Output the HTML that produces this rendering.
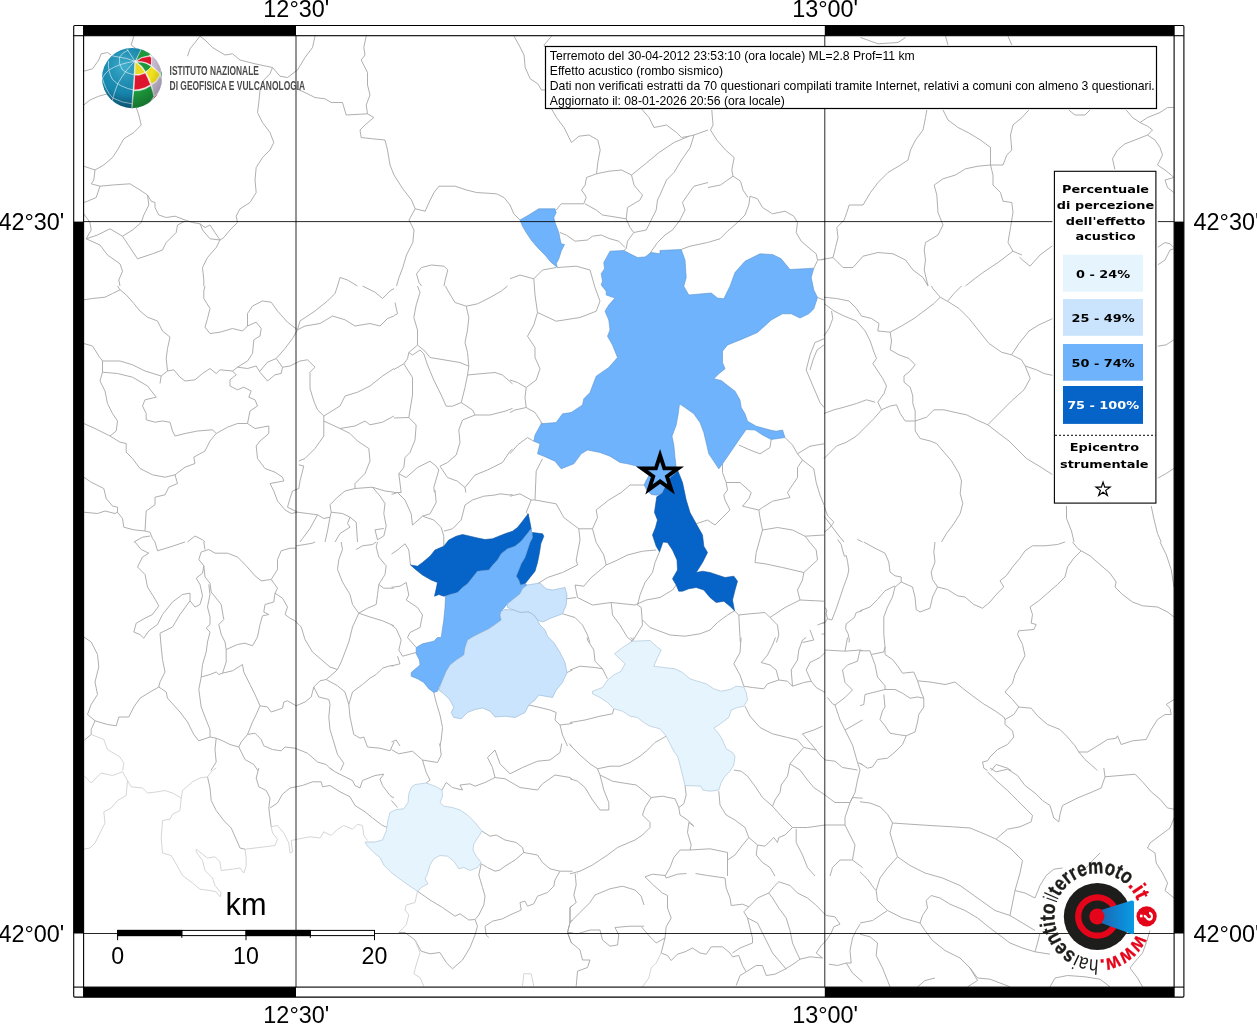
<!DOCTYPE html>
<html lang="it"><head><meta charset="utf-8"><title>Hai sentito il terremoto - Effetto acustico</title>
<style>html,body{margin:0;padding:0;background:#fff}body{width:1257px;height:1024px;overflow:hidden}svg{display:block}.h{font-family:"Liberation Sans",sans-serif}.d{font-family:"DejaVu Sans",sans-serif;font-weight:bold}</style></head><body>
<svg width="1257" height="1024" viewBox="0 0 1257 1024">
<rect width="1257" height="1024" fill="#fff"/>
<defs><clipPath id="mc"><rect x="83.6" y="35.7" width="1090.5" height="951.4"/></clipPath>
<linearGradient id="cone" x1="0" y1="0" x2="1" y2="0"><stop offset="0" stop-color="#1c68b2"/><stop offset="0.55" stop-color="#0e86d2"/><stop offset="1" stop-color="#0a9be3"/></linearGradient>
<radialGradient id="gb" cx="0.35" cy="0.3" r="0.8"><stop offset="0" stop-color="#2aa6c9"/><stop offset="0.6" stop-color="#1583aa"/><stop offset="1" stop-color="#0c5f86"/></radialGradient>
<radialGradient id="gs" cx="0.4" cy="0.3" r="0.75"><stop offset="0" stop-color="#fff" stop-opacity="0.12"/><stop offset="0.6" stop-color="#000" stop-opacity="0"/><stop offset="1" stop-color="#000" stop-opacity="0.28"/></radialGradient>
</defs>
<g clip-path="url(#mc)">
<g fill="none" stroke="#a6a6a6" stroke-width="0.9" stroke-linejoin="round">
<path d="M510.0 205.0 L513.8 213.8 L520.0 220.0"/>
<path d="M556.2 210.0 L561.2 203.8 L583.8 203.8 L586.2 197.5 L585.0 195.0"/>
<path d="M585.0 203.8 L596.2 210.0 L602.5 215.0 L626.2 218.8 L627.5 207.5 L640.0 200.0 L642.5 195.0"/>
<path d="M626.2 218.8 L630.0 227.5 L633.8 232.5 L627.5 241.2 L626.2 248.8 L623.8 250.5"/>
<path d="M560.0 232.5 L566.2 235.0 L575.0 241.2 L587.5 240.0 L592.5 236.2 L601.2 235.0 L610.0 238.8 L618.8 241.2 L625.0 247.5"/>
<path d="M633.8 232.5 L646.2 230.0 L650.0 222.5 L656.2 210.0 L657.5 200.0 L660.0 195.0"/>
<path d="M648.8 255.0 L657.5 242.5 L665.0 235.0 L672.5 230.0 L680.0 220.0 L685.0 210.0 L682.5 202.5 L687.5 195.0"/>
<path d="M681.2 249.5 L690.0 246.2 L707.5 242.5 L720.0 238.8 L727.5 231.2 L737.5 222.5 L745.0 215.0 L748.8 205.0 L750.0 196.2 L757.5 198.8 L762.5 207.5 L772.5 213.8 L785.0 211.2 L793.8 216.2 L797.5 222.5 L796.2 232.5 L801.2 241.2 L810.0 248.8 L816.2 253.8 L817.5 260.0 L824.0 259.5"/>
<path d="M813.8 268.2 L817.5 260.5"/>
<path d="M817.5 297.5 L824.0 300.0"/>
<path d="M824.0 338.8 L815.0 342.5 L810.0 355.0 L806.2 370.0 L812.5 385.0 L820.0 402.5 L824.0 407.5"/>
<path d="M824.0 345.0 L817.0 350.0 L813.0 360.0 L810.0 370.0"/>
<path d="M556.2 267.5 L542.5 270.0 L533.8 278.8 L520.0 275.0 L510.0 278.8"/>
<path d="M533.8 278.8 L535.0 295.0 L537.5 312.5 L556.2 321.2 L580.0 317.5 L596.2 311.2 L600.0 301.2 L595.0 287.5 L590.0 270.0 L576.2 266.2 L557.5 267.5"/>
<path d="M537.5 312.5 L533.8 325.0 L527.5 336.2 L535.0 347.5 L535.0 357.5 L540.0 368.8 L536.2 380.0 L526.2 387.5 L525.0 397.5 L526.2 407.5 L535.0 412.5 L542.5 423.8"/>
<path d="M526.2 387.5 L517.5 382.5 L510.0 380.0"/>
<path d="M526.2 407.5 L515.0 410.0 L510.0 412.5"/>
<path d="M540.7 422.5 L541.2 423.8"/>
<path d="M510.0 453.8 L517.5 445.0 L527.5 437.5 L533.8 441.2"/>
<path d="M542.5 458.8 L536.2 471.2 L535.0 500.0 L556.2 503.8 L563.8 517.5 L578.8 528.8 L592.5 528.8 L597.5 517.5 L596.2 510.0 L608.8 500.0 L621.2 492.5 L630.0 485.0 L645.0 485.0"/>
<path d="M510.0 496.2 L520.0 493.8 L531.2 500.0 L535.0 500.0"/>
<path d="M531.2 500.0 L526.2 512.5 L528.8 515.0"/>
<path d="M578.8 528.8 L580.0 540.0 L576.2 560.0 L577.5 565.0 L562.5 572.5 L547.5 577.5 L537.5 583.8"/>
<path d="M592.5 528.8 L596.2 542.5 L603.8 555.0 L606.2 565.0 L615.0 561.2 L627.5 555.0 L642.5 551.2 L656.2 550.0"/>
<path d="M606.2 565.0 L591.2 577.5 L583.8 586.2 L575.0 585.0 L577.5 597.5 L592.5 605.0 L611.2 602.5 L635.0 605.0 L646.2 600.0 L660.0 597.5 L672.5 590.0 L676.2 585.0"/>
<path d="M659.5 551.8 L655.0 562.5 L652.5 572.5 L645.0 582.5 L640.0 595.0 L637.5 605.0"/>
<path d="M611.2 602.5 L612.5 615.0 L620.0 625.0 L627.5 637.5 L632.5 641.2 L642.5 625.0 L641.2 607.5 L637.5 605.0"/>
<path d="M642.5 620.0 L650.0 627.5 L670.0 635.0 L685.0 636.2 L700.0 633.8 L710.0 630.0 L717.5 622.5 L727.5 615.0 L734.5 610.8"/>
<path d="M566.2 598.8 L576.2 597.5"/>
<path d="M562.5 613.8 L575.0 617.5 L582.5 625.0 L587.5 635.0 L590.0 642.5"/>
<path d="M632.5 641.2 L630.7 642.5"/>
<path d="M734.5 610.8 L738.8 615.0 L740.0 637.5 L740.3 642.5"/>
<path d="M738.8 615.0 L750.0 613.8 L765.0 612.5 L770.0 617.5 L777.5 625.0 L778.8 635.0 L776.5 642.5"/>
<path d="M770.0 617.5 L785.0 607.5 L800.0 600.0 L824.0 601.2"/>
<path d="M800.0 600.0 L797.5 590.0 L802.5 580.0 L803.8 572.5 L782.5 567.5 L765.0 563.8 L755.0 562.5 L756.2 552.5 L762.5 530.0 L760.0 517.5 L758.8 510.0 L742.5 506.2 L748.8 498.8 L751.2 492.5 L740.0 482.5 L726.2 482.5 L722.5 472.5 L722.5 463.8"/>
<path d="M771.2 439.5 L770.0 447.5 L760.0 453.8 L750.0 450.0 L738.8 445.0"/>
<path d="M785.0 437.5 L792.5 445.0 L797.5 453.8 L802.5 460.0 L797.5 467.5 L797.5 477.5 L787.5 492.5 L790.0 497.5 L772.5 501.2 L762.5 507.5 L758.8 510.0"/>
<path d="M797.5 453.8 L810.0 446.2 L824.0 443.8"/>
<path d="M802.5 460.0 L813.8 468.8 L816.2 482.5 L820.0 495.0 L824.0 505.0"/>
<path d="M762.5 530.0 L777.5 527.5 L792.5 530.0 L805.0 536.2 L810.0 542.5 L816.2 550.0 L817.5 560.0 L803.8 572.5"/>
<path d="M805.0 536.2 L824.0 535.0"/>
<path d="M696.2 523.8 L707.5 520.0 L715.0 525.0 L722.5 517.5 L730.0 510.0 L725.0 500.0 L723.8 495.0 L727.5 490.0 L726.2 482.5"/>
<path d="M817.5 625.0 L824.0 622.5"/>
<path d="M810.0 630.0 L813.8 640.0 L802.5 642.5"/>
<path d="M391.5 494.5 L397.5 492.5 L405.0 500.0 L411.2 513.8 L412.5 525.0 L422.5 516.2 L430.0 513.8 L436.2 502.5 L435.0 490.0"/>
<path d="M422.5 516.2 L433.8 520.0 L441.2 527.5 L443.8 536.2 L443.8 546.2"/>
<path d="M443.8 531.2 L452.5 528.8 L461.2 520.0 L465.0 505.0 L472.5 500.0 L483.8 496.2 L495.0 495.0 L500.0 493.8 L510.0 495.0 L512.5 494.4"/>
<path d="M391.5 554.0 L397.5 550.0 L405.0 543.8 L408.8 550.0 L410.5 565.0"/>
<path d="M567.0 672.5 L572.5 669.9"/>
<path d="M572.5 723.2 L570.0 723.8 L560.0 725.0 L555.0 720.0 L556.2 712.5 L550.0 710.0 L540.0 707.5 L528.8 705.0"/>
<path d="M560.0 725.0 L562.5 735.0 L567.5 746.0"/>
<path d="M391.5 625.0 L396.2 628.8 L401.2 640.0 L398.8 650.0 L402.5 656.2 L416.2 652.5"/>
<path d="M391.5 665.9 L400.0 663.8 L397.5 656.2"/>
<path d="M391.5 587.3 L400.0 586.2 L406.2 582.5 L408.8 595.0 L406.2 600.0 L417.5 607.5 L422.5 615.0 L420.0 627.5 L410.0 632.5 L407.5 637.5 L416.2 647.5"/>
<path d="M433.8 692.5 L436.2 702.5 L440.0 715.0 L442.5 727.5 L441.2 740.0 L440.0 746.0"/>
<path d="M391.5 741.9 L396.2 740.0 L400.0 746.0"/>
<path d="M587.2 637.5 L587.5 640.0 L593.8 650.0 L595.0 661.2 L602.5 668.8 L607.5 678.8"/>
<path d="M570.0 670.0 L580.0 666.2 L595.0 667.5 L602.5 668.8"/>
<path d="M630.7 637.5 L632.5 639.5 L633.6 637.5"/>
<path d="M741.1 637.5 L740.0 652.5 L733.8 663.8 L740.0 675.0 L743.8 686.2"/>
<path d="M743.8 686.2 L752.5 687.5 L763.8 688.8 L767.5 683.8 L778.8 680.0 L787.5 681.2 L792.5 686.2 L803.8 682.5 L811.2 681.2 L816.2 687.5 L825.0 692.5"/>
<path d="M778.8 680.0 L776.2 670.0 L770.0 665.0 L761.2 662.5 L767.5 655.0 L772.5 645.0 L775.5 637.5"/>
<path d="M792.5 686.2 L791.2 670.0 L797.5 660.0 L798.8 650.0 L802.5 640.0 L806.2 637.5"/>
<path d="M811.2 681.2 L806.2 670.0 L810.0 662.5 L820.0 657.5 L825.0 652.5"/>
<path d="M825.0 650.0 L845.0 651.2 L860.0 650.0 L862.5 650.6"/>
<path d="M845.0 651.2 L847.5 637.5"/>
<path d="M860.0 650.0 L857.5 661.2 L847.5 665.0 L842.5 670.0 L845.0 682.5 L852.5 690.0 L845.0 697.5 L835.0 705.0 L832.5 703.8 L827.5 697.5"/>
<path d="M835.0 705.0 L840.0 720.0 L845.0 730.0 L862.5 720.0"/>
<path d="M845.0 730.0 L852.5 745.0 L857.5 762.5 L860.0 770.0 L857.5 780.0 L855.0 792.5 L850.0 802.5 L845.0 817.5 L845.0 825.0"/>
<path d="M857.5 762.5 L862.5 764.5"/>
<path d="M745.0 706.2 L750.0 716.2 L760.0 727.5 L772.5 733.8 L787.5 737.5 L797.5 740.0 L803.8 747.5 L795.0 757.5 L790.0 763.8 L787.5 776.2 L781.2 785.0 L780.0 792.5 L775.0 800.0 L772.5 806.2"/>
<path d="M803.8 747.5 L816.2 750.0 L820.0 755.0 L825.0 760.0 L835.0 761.2 L842.5 767.5 L857.5 770.0"/>
<path d="M802.5 733.8 L813.8 730.0 L822.5 726.2"/>
<path d="M802.5 733.8 L810.0 742.5 L816.2 750.0"/>
<path d="M790.0 763.8 L800.0 770.0 L807.5 780.0 L813.8 787.5 L825.0 795.0 L835.0 802.5 L850.0 802.5"/>
<path d="M733.8 770.0 L741.2 771.2 L747.5 776.2 L755.0 786.2 L762.5 797.5 L772.5 806.2 L782.5 817.5 L792.5 827.5 L785.0 835.0 L778.8 837.5 L777.5 842.5 L773.8 837.5 L765.0 846.2 L757.5 845.0 L748.8 837.5 L745.0 827.5 L735.0 820.0 L726.2 815.0 L720.0 805.0 L718.8 791.2"/>
<path d="M792.5 827.5 L807.5 827.5 L825.0 825.0 L845.0 825.0"/>
<path d="M796.2 828.8 L796.2 842.5 L802.5 855.0 L807.5 867.5 L815.0 876.0"/>
<path d="M845.0 825.0 L850.0 835.0 L855.0 845.0 L852.5 860.0 L840.0 860.0 L832.5 867.5 L830.0 876.0"/>
<path d="M852.5 860.0 L862.5 867.5"/>
<path d="M748.8 837.5 L742.5 845.0 L735.0 855.0 L727.5 860.0 L727.5 876.0"/>
<path d="M757.5 845.0 L756.2 855.0 L762.5 862.5 L770.0 867.5 L775.0 876.0"/>
<path d="M685.0 785.5 L686.2 795.0 L683.8 803.8 L678.8 807.5 L680.0 815.0 L687.5 820.0 L693.8 826.2 L688.8 822.5 L687.5 832.5 L691.2 845.0 L690.0 850.0 L710.0 848.8 L727.5 852.5 L727.5 860.0"/>
<path d="M678.8 807.5 L675.0 798.8 L662.5 796.2 L651.2 797.5 L642.5 790.0 L636.2 785.0 L620.0 782.5 L612.5 781.2 L600.0 775.0 L597.5 768.8 L610.0 766.2 L620.0 766.2 L630.0 762.5 L640.0 756.2 L647.5 750.0 L655.0 742.5 L666.2 736.2"/>
<path d="M570.0 722.5 L585.0 720.0 L600.0 716.2 L612.5 713.8 L613.8 708.8"/>
<path d="M570.0 745.0 L580.0 755.0 L590.0 763.8 L597.5 768.8"/>
<path d="M600.0 775.0 L603.8 790.0 L608.8 802.5 L608.8 810.0 L600.0 810.0 L592.5 800.0 L585.0 787.5 L577.5 781.2 L570.0 778.8"/>
<path d="M651.2 797.5 L645.0 807.5 L642.5 815.0 L650.0 822.5 L650.0 827.5 L642.5 835.0 L635.0 840.0 L617.5 847.5 L607.5 855.0 L592.5 865.0 L580.0 871.2 L570.0 873.8"/>
<path d="M690.0 850.0 L680.0 850.0 L673.8 857.5 L670.0 867.5 L665.0 876.0"/>
<path d="M862.5 798.2 L852.5 797.5 L850.0 802.5"/>
<path d="M391.5 749.7 L398.8 753.8 L412.5 751.2 L422.5 760.0 L426.2 772.5 L430.0 780.0 L426.2 783.0"/>
<path d="M391.5 800.5 L397.5 807.5"/>
<path d="M422.5 760.0 L437.5 762.5 L441.2 755.0 L440.0 745.0 L439.2 743.5"/>
<path d="M442.0 790.0 L446.2 782.5 L452.5 787.5 L462.5 790.0 L460.0 785.0 L470.0 783.8 L475.0 786.2 L485.0 782.5 L495.0 777.5 L505.0 778.8 L520.0 787.5 L537.5 790.0 L542.5 783.8 L555.0 775.0 L570.0 777.5 L572.5 779.5"/>
<path d="M495.0 777.5 L492.5 767.5 L487.5 757.5 L495.0 750.0 L500.0 763.8 L510.0 773.8 L522.5 767.5 L537.5 761.2 L550.0 760.0 L560.0 752.5 L561.8 743.5"/>
<path d="M569.2 743.5 L572.5 747.5"/>
<path d="M482.0 831.2 L490.0 836.2 L496.2 835.0 L505.0 840.0 L516.2 842.5 L522.5 847.5 L523.8 852.5 L515.0 860.0 L505.0 866.2 L500.0 870.0 L495.0 871.2 L487.5 867.5 L481.2 863.8"/>
<path d="M523.8 852.5 L537.5 855.0 L542.5 862.5 L550.0 868.8 L560.0 871.2 L572.5 871.2"/>
<path d="M577.2 873.5 L577.5 873.8 L578.0 873.5"/>
<path d="M560.0 871.2 L555.0 880.0 L553.8 886.2 L547.5 892.5 L537.5 896.2 L533.8 903.8 L527.5 906.2 L525.0 901.2 L520.0 902.5 L521.2 910.0 L510.0 915.0 L502.5 918.8 L492.5 921.2 L485.0 926.2 L486.2 935.0 L488.8 937.5"/>
<path d="M481.2 863.8 L478.8 875.0 L482.5 887.5 L485.0 896.2 L483.8 905.0 L478.8 915.0 L475.0 919.5 L477.5 926.2 L475.0 935.0 L470.0 947.5 L462.5 960.0 L452.5 968.8 L446.2 962.5 L440.0 952.5 L430.0 953.8 L421.2 951.2 L415.0 940.0 L405.0 932.5 L398.8 932.5"/>
<path d="M417.5 891.2 L430.0 900.0 L442.5 907.5 L455.0 916.2 L460.0 913.8 L468.8 920.0 L475.0 919.5"/>
<path d="M572.5 905.5 L570.0 907.5 L570.0 922.5 L567.5 932.5"/>
<path d="M575.2 873.5 L576.2 885.0 L573.8 895.0 L576.2 902.5 L570.0 907.5 L570.0 922.5 L567.5 932.5"/>
<path d="M570.0 922.5 L572.5 920.0"/>
<path d="M570.0 922.5 L580.0 912.5 L590.0 902.5 L595.0 895.0 L610.0 888.8 L622.5 886.2 L635.0 890.0 L641.2 896.2 L644.0 905.0"/>
<path d="M567.5 932.5 L572.5 933.1"/>
<path d="M567.5 932.5 L577.5 933.8 L590.0 930.0 L600.0 930.0 L602.5 940.0 L610.0 946.2 L617.5 945.0 L618.8 935.0 L615.0 927.5 L630.0 926.2 L644.0 926.2"/>
<path d="M567.5 932.5 L571.2 942.5 L572.5 943.6"/>
<path d="M567.5 932.5 L571.2 942.5 L580.0 950.0 L582.5 960.0 L590.0 960.0 L587.5 967.5 L577.5 971.2 L576.2 986.2"/>
<path d="M417.5 891.2 L415.0 902.5 L406.2 905.0 L405.0 910.0 L408.8 915.0 L406.2 925.0 L398.8 932.5" stroke="#d0d0d0"/>
<path d="M415.0 940.0 L420.0 952.5 L416.2 965.0 L413.8 973.8 L420.0 977.5 L423.8 986.2" stroke="#d0d0d0"/>
<path d="M522.5 986.2 L523.8 973.8 L531.2 973.8 L533.8 986.2" stroke="#d0d0d0"/>
<path d="M83.8 71.2 L92.5 68.8 L98.8 60.0 L101.2 53.8 L107.5 52.5 L111.2 55.0"/>
<path d="M133.8 36.2 L131.2 45.0 L136.2 48.8"/>
<path d="M200.0 36.2 L195.0 42.5 L190.0 48.8 L187.5 56.2"/>
<path d="M200.0 36.2 L205.0 40.0 L212.5 47.5 L225.0 55.0 L232.5 53.8 L240.0 60.0 L255.0 63.8 L272.5 67.5 L270.0 73.8 L263.8 80.0 L260.0 90.0 L258.8 102.5 L257.5 112.5 L262.5 122.5 L270.0 132.5 L273.8 142.5 L270.0 150.0 L262.5 157.5 L256.2 167.5 L255.0 180.0 L256.2 192.5 L250.0 202.5 L240.0 208.8 L236.2 216.2 L237.5 222.5 L230.0 230.0 L223.8 237.5 L220.0 240.0"/>
<path d="M272.5 67.5 L280.0 76.2 L287.5 77.5 L297.5 70.0 L305.0 57.5 L312.5 47.5 L315.0 36.2"/>
<path d="M296.2 88.8 L305.0 92.5 L315.0 97.5 L325.0 98.8 L331.2 102.5 L342.5 102.5 L346.2 115.0 L367.5 113.8 L373.8 117.5 L365.0 125.0 L360.0 130.0 L361.2 137.5 L372.5 138.8 L385.0 140.0 L387.5 150.0 L390.0 165.0 L394.0 175.0"/>
<path d="M366.2 36.2 L363.8 47.5 L365.0 55.0 L361.2 60.0 L367.5 72.5 L367.5 85.0 L370.0 95.0 L366.2 105.0 L367.5 113.8"/>
<path d="M136.2 107.5 L138.8 115.0 L141.2 125.0 L133.8 132.5 L123.8 138.8 L117.5 150.0 L112.5 157.5 L103.8 165.0 L95.0 170.0 L93.8 180.0 L91.2 183.8 L100.0 186.2 L112.5 185.0 L130.0 183.8 L140.0 190.0 L147.5 195.0 L151.2 201.2 L155.0 202.5 L155.0 207.5 L158.8 215.0 L166.2 217.5 L175.0 216.2 L185.0 220.0 L192.5 222.5 L200.0 223.8 L205.0 227.5 L210.0 225.0 L215.0 232.5 L220.0 240.0"/>
<path d="M83.8 105.0 L90.0 100.0 L98.8 96.2 L107.5 93.8"/>
<path d="M83.8 166.2 L95.0 170.0"/>
<path d="M100.0 186.2 L96.2 197.5 L87.5 201.2 L83.8 202.5"/>
<path d="M147.5 195.0 L148.8 205.0 L143.8 215.0 L141.2 222.5 L132.5 230.0 L122.5 236.2 L137.5 258.8 L152.5 253.8 L162.5 250.0 L166.2 242.5 L176.2 232.5 L177.5 225.0 L185.0 221.2"/>
<path d="M83.8 213.8 L90.0 222.5 L91.2 230.0 L86.2 238.8 L100.0 245.0 L107.5 255.0 L120.0 263.8 L122.5 271.2 L118.8 280.0 L120.0 286.0"/>
<path d="M86.2 238.8 L97.5 235.0 L110.0 228.8 L122.5 236.2"/>
<path d="M200.0 223.8 L202.5 230.0 L210.0 238.8 L220.0 240.0 L216.2 247.5 L207.5 257.5 L202.5 267.5 L203.8 280.0 L203.8 286.0"/>
<path d="M337.5 286.0 L340.0 277.5 L347.5 280.0 L357.5 286.0"/>
<path d="M514.0 36.2 L519.0 45.0 L524.0 55.0 L525.2 67.5 L530.2 78.8 L537.8 83.8 L541.5 90.0 L545.2 90.0"/>
<path d="M551.5 36.2 L544.0 45.0 L544.8 47.0"/>
<path d="M551.5 108.8 L556.5 117.5 L564.0 127.5 L569.0 137.5 L571.5 142.5 L579.0 136.2 L589.0 135.0 L597.8 140.0 L600.2 150.0 L597.8 162.5 L596.5 173.8 L586.5 177.5 L585.2 185.0 L581.5 190.0 L585.0 195.0"/>
<path d="M596.5 173.8 L609.0 171.2 L621.5 170.0 L631.5 175.0 L644.0 165.0 L659.0 152.5 L674.0 142.5 L689.0 136.2 L694.0 135.0 L708.0 130.0"/>
<path d="M641.5 108.8 L649.0 117.5 L654.0 127.5 L666.5 125.0 L676.5 132.5 L681.5 137.5 L689.0 136.2"/>
<path d="M694.0 135.0 L690.2 147.5 L681.5 160.0 L674.0 172.5 L666.5 180.0 L660.0 195.0"/>
<path d="M631.5 175.0 L634.0 185.0 L640.2 192.5 L642.5 195.0"/>
<path d="M687.5 195.0 L694.0 186.2 L708.0 182.5"/>
<path d="M510.0 205.0 L504.0 197.5 L496.5 193.8 L476.5 192.5 L466.5 190.0 L455.2 186.2 L439.0 186.2 L434.0 192.5 L429.0 202.5 L425.2 211.2 L415.2 208.8 L411.5 200.0 L402.8 188.8 L394.0 175.0"/>
<path d="M415.2 208.8 L409.0 220.0 L414.0 230.0 L412.8 242.5 L406.5 255.0 L402.8 267.5 L399.0 277.5 L396.5 286.0"/>
<path d="M416.5 273.8 L421.5 267.5 L431.5 265.0 L444.0 266.2 L447.8 270.0 L445.2 280.0 L444.0 286.0"/>
<path d="M416.5 273.8 L419.0 282.5 L421.5 286.0"/>
<path d="M711.8 110.0 L713.0 125.0 L710.5 130.0 L716.8 140.0 L725.5 150.0 L734.2 157.5 L731.8 170.0 L733.0 176.2 L740.5 181.2 L743.0 190.0 L748.0 197.5"/>
<path d="M708.0 187.5 L720.5 185.0 L733.0 176.2"/>
<path d="M821.5 259.6 L833.0 257.5 L835.5 247.5 L838.0 237.5 L836.8 227.5 L844.2 220.0 L846.8 212.5 L849.2 205.0 L863.0 205.0 L870.5 192.5 L878.0 182.5 L888.0 172.5 L900.5 165.0 L908.0 160.0 L910.5 150.0 L915.5 140.0 L923.0 130.0 L925.5 117.5 L926.8 110.0"/>
<path d="M833.0 257.5 L843.0 267.5 L853.0 267.5 L863.0 256.2 L878.0 252.5 L893.0 253.8 L905.5 260.0 L913.0 270.0 L923.0 277.5 L928.0 286.0"/>
<path d="M943.0 110.0 L948.0 120.0 L958.0 127.5 L968.0 132.5 L980.5 140.0 L990.5 147.5 L990.5 165.0 L993.0 175.0 L993.0 185.0 L1000.5 192.5 L1003.0 201.2 L1011.8 202.5 L1013.0 212.5 L1010.5 227.5 L1008.0 242.5 L1013.0 251.2 L998.0 262.5 L983.0 272.5 L973.0 280.0 L965.5 286.0"/>
<path d="M990.5 165.0 L978.0 166.2 L965.5 168.8 L955.5 175.0 L943.0 178.8 L934.2 185.0 L936.8 195.0 L938.0 212.5 L943.0 225.0 L938.0 235.0 L925.5 242.5 L924.2 250.0 L925.5 260.0 L924.2 270.0 L928.0 286.0"/>
<path d="M1022.0 117.5 L1013.0 125.0 L1010.5 135.0 L1011.8 150.0 L1006.8 155.0 L1003.0 165.0 L990.5 165.0"/>
<path d="M1013.0 251.2 L1022.0 255.0"/>
<path d="M860.5 37.5 L878.0 43.8 L898.0 42.5 L905.5 37.5"/>
<path d="M945.5 36.2 L948.0 45.0"/>
<path d="M1008.0 36.2 L1011.8 45.0"/>
<path d="M1022.0 117.5 L1028.8 110.0"/>
<path d="M1019.5 257.2 L1022.5 260.0 L1030.0 266.2 L1040.0 255.0 L1050.0 247.5 L1053.8 245.0"/>
<path d="M1068.8 110.0 L1075.0 115.0 L1085.0 115.0 L1090.0 110.0"/>
<path d="M1126.2 110.0 L1132.5 117.5 L1140.0 122.5 L1147.5 126.2 L1152.5 130.0 L1147.5 135.0 L1155.0 140.0 L1160.0 147.5 L1162.5 155.0 L1157.5 165.0 L1165.0 170.0 L1171.2 175.0 L1173.8 177.5"/>
<path d="M1147.5 135.0 L1135.0 140.0 L1125.0 143.8 L1117.5 150.0 L1112.5 158.8 L1115.0 170.0"/>
<path d="M1140.0 122.5 L1147.5 117.5 L1160.0 112.5 L1167.5 107.5 L1173.8 107.5"/>
<path d="M1173.8 177.5 L1165.0 180.0 L1167.5 187.5 L1173.8 192.5"/>
<path d="M1157.5 247.5 L1165.0 242.5 L1170.0 243.8 L1173.8 247.5"/>
<path d="M1157.5 265.0 L1165.0 260.0 L1170.0 250.0 L1173.8 248.8"/>
<path d="M83.8 299.8 L92.5 298.5 L105.0 297.2 L112.5 293.5 L120.0 289.8 L126.2 294.8 L133.8 303.5 L140.0 311.0 L147.5 317.2 L157.5 321.0 L162.5 331.0 L170.0 337.2 L167.5 348.5 L166.2 358.5 L167.5 371.0 L161.2 376.0 L160.0 383.5"/>
<path d="M120.0 289.8 L117.5 286.0"/>
<path d="M83.8 343.5 L92.5 346.0 L98.8 356.0 L102.5 361.0 L120.0 361.0 L132.5 364.8 L145.0 371.0 L161.2 376.0"/>
<path d="M102.5 361.0 L102.5 372.2 L117.5 373.5 L132.5 377.2 L147.5 386.0 L156.2 397.2 L145.0 399.8 L142.5 406.0 L146.2 413.5 L146.2 419.8 L155.0 422.2 L162.5 421.0 L170.0 422.2 L172.5 431.0 L175.0 436.0 L185.0 433.5 L197.5 431.0 L212.5 429.8 L216.2 433.5 L227.5 427.2 L237.5 423.5 L247.5 423.5"/>
<path d="M102.5 372.2 L100.0 381.0 L105.0 391.0 L107.5 403.5 L112.5 413.5 L117.5 421.0 L116.2 431.0 L110.0 436.0 L120.0 442.2 L126.2 443.5 L126.2 452.2 L132.5 458.5 L140.0 468.5 L152.5 474.8 L165.0 477.2 L175.0 474.8 L185.0 467.2 L195.0 463.5 L193.8 457.2 L205.0 451.0 L210.0 441.0 L216.2 433.5"/>
<path d="M83.8 423.5 L95.0 428.5 L105.0 433.5 L110.0 436.0"/>
<path d="M167.5 371.0 L173.8 369.8 L180.0 377.2 L185.0 381.0 L195.0 379.8 L202.5 373.5 L210.0 368.5 L216.2 373.5 L220.0 369.8 L232.5 371.0 L237.5 367.2 L247.5 368.5 L256.2 366.0 L260.0 372.2 L267.5 381.0 L275.0 374.8 L281.2 373.5 L282.5 367.2 L276.2 358.5 L267.5 362.2 L260.0 371.0"/>
<path d="M237.5 367.2 L247.5 361.0 L252.5 353.5 L253.8 339.8 L260.0 336.0 L261.2 328.5 L256.2 322.2 L247.5 326.0 L242.5 331.0 L232.5 328.5 L220.0 332.2 L210.0 333.5 L205.0 327.2 L207.5 318.5 L210.0 308.5 L203.8 298.5 L203.8 291.0 L205.0 286.0"/>
<path d="M247.5 326.0 L247.5 313.5 L252.5 306.0 L262.5 301.0 L271.2 302.2 L277.5 311.0 L287.5 322.2 L297.5 329.8"/>
<path d="M276.2 358.5 L285.0 348.5 L292.5 338.5 L297.5 329.8 L305.0 326.0 L320.0 323.5 L332.5 316.0 L345.0 319.8 L355.0 326.0 L370.0 323.5 L380.0 326.0 L387.5 318.5 L394.0 316.0"/>
<path d="M297.5 329.8 L300.0 321.0 L315.0 311.0 L327.5 301.0 L335.0 293.5 L337.5 286.0"/>
<path d="M362.5 286.0 L375.0 292.2 L382.5 298.5 L390.0 291.0 L394.0 288.5"/>
<path d="M282.5 367.2 L290.0 366.0 L300.0 361.0 L307.5 359.8 L315.0 367.2 L310.0 372.2 L310.0 388.5 L313.8 401.0 L317.5 409.8 L323.8 416.0"/>
<path d="M232.5 371.0 L236.2 374.8 L230.0 379.8 L230.0 386.0 L237.5 389.8 L243.8 387.2 L251.2 391.0 L248.8 397.2 L255.0 399.8 L257.5 406.0 L250.0 411.0 L247.5 423.5 L255.0 428.5 L268.8 426.0 L268.8 433.5 L260.0 441.0 L256.2 446.0 L257.5 458.5 L265.0 468.5 L275.0 472.2 L282.5 477.2 L283.8 481.0 L270.0 483.5 L273.8 491.0 L277.5 501.0 L285.0 509.8 L291.2 513.5 L297.5 512.2"/>
<path d="M323.8 416.0 L340.0 406.0 L345.0 396.0 L357.5 392.2 L370.0 386.0 L382.5 376.0 L394.0 368.5"/>
<path d="M323.8 416.0 L323.8 421.0 L340.0 428.5 L355.0 426.0 L365.0 421.0 L370.0 424.8 L382.5 422.2 L394.0 416.0"/>
<path d="M340.0 428.5 L350.0 433.5 L357.5 441.0 L368.8 448.5 L370.0 461.0 L365.0 473.5 L355.0 483.5 L355.0 488.5 L372.5 487.2 L385.0 491.0 L394.0 492.2"/>
<path d="M323.8 421.0 L323.8 436.0 L315.0 448.5 L305.0 458.5 L298.8 461.0"/>
<path d="M298.8 464.8 L303.8 466.0 L300.0 481.0 L298.8 488.5 L292.5 491.0 L290.0 498.5 L287.5 507.2 L297.5 512.2 L307.5 513.5 L317.5 514.8 L323.8 518.5 L330.0 517.2 L331.2 512.2 L330.0 504.8 L337.5 497.2 L345.0 491.0 L355.0 488.5"/>
<path d="M372.5 487.2 L380.0 496.0 L385.0 503.5 L383.8 513.5 L386.2 526.0 L383.8 536.0 L377.5 539.8 L375.0 529.8 L383.8 528.5"/>
<path d="M331.2 512.2 L342.5 513.5 L350.0 517.2 L356.2 522.2 L357.5 542.0"/>
<path d="M350.0 517.2 L347.5 523.5 L350.0 527.2 L340.0 533.5 L335.0 542.0"/>
<path d="M317.5 514.8 L310.0 528.5 L302.5 538.5 L300.0 542.0"/>
<path d="M330.0 517.2 L327.5 531.0 L325.0 542.0"/>
<path d="M175.0 474.8 L177.5 483.5 L168.8 487.2 L165.0 494.8 L155.0 497.2 L155.0 504.8 L146.2 511.0 L145.0 531.0 L150.0 532.2 L152.5 538.5 L155.0 542.0"/>
<path d="M83.8 477.2 L91.2 482.2 L103.8 488.5 L106.2 498.5 L112.5 506.0 L117.5 507.2 L117.5 512.2 L122.5 518.5 L123.8 527.2 L133.8 529.8 L145.0 531.0"/>
<path d="M83.8 512.2 L97.5 513.5 L105.0 511.0 L115.0 513.5 L117.5 512.2"/>
<path d="M133.8 542.0 L142.5 537.2 L150.0 536.0"/>
<path d="M187.5 542.0 L195.0 536.0 L202.5 539.8 L205.0 542.0"/>
<path d="M135.0 542.0 L141.2 549.5 L148.8 553.2 L142.5 557.0 L137.5 567.0 L145.0 574.5 L147.5 587.0 L153.8 597.0 L158.8 605.8 L152.5 614.5 L145.0 618.2 L136.2 623.2 L133.8 632.0 L140.0 634.5 L143.8 638.2 L148.8 630.8 L157.5 624.5 L162.5 614.5 L172.5 602.0 L182.5 594.5 L190.0 593.2 L190.0 600.8 L195.0 607.0 L200.0 604.5 L202.5 595.8 L200.0 584.5 L196.2 578.2 L202.5 573.2 L203.8 565.8 L198.8 559.5 L201.2 552.0 L208.8 549.5 L215.0 553.2 L227.5 553.2 L237.5 557.0 L246.2 565.8 L255.0 575.8 L261.2 580.8 L271.2 579.5 L277.5 588.2 L275.0 593.2"/>
<path d="M155.0 542.0 L157.5 550.8 L170.0 547.0 L185.0 542.0"/>
<path d="M203.8 542.0 L205.0 549.5"/>
<path d="M190.0 600.8 L180.0 614.5 L172.5 627.0 L160.0 633.2 L161.2 647.0 L162.5 659.5 L165.0 672.0 L160.0 682.0 L158.8 687.0 L166.2 692.0 L167.5 698.2 L180.0 712.0 L187.5 722.0 L193.8 734.5 L198.8 740.8 L210.0 737.0 L216.2 738.2"/>
<path d="M158.8 687.0 L150.0 692.0 L140.0 698.2 L133.8 707.0 L128.8 717.0 L118.8 717.0 L116.2 725.8 L107.5 724.5 L95.0 720.8"/>
<path d="M83.8 637.0 L91.2 642.0 L97.5 654.5 L98.8 667.0 L95.0 682.0 L97.5 694.5 L91.2 704.5 L87.5 714.5 L95.0 720.8 L91.2 729.5 L91.2 734.5 L85.0 739.5 L83.8 740.8"/>
<path d="M203.8 565.8 L205.0 577.0 L210.0 583.2 L211.2 592.0 L216.2 598.2 L221.2 604.5 L223.8 619.5 L218.8 624.5 L221.2 634.5 L225.0 642.0 L226.2 649.5 L237.5 644.5 L245.0 643.2 L252.5 645.8 L257.5 637.0 L260.0 624.5 L262.5 615.8 L268.8 614.5 L263.8 612.0 L265.0 604.5 L273.8 602.0 L275.0 593.2 L282.5 598.2 L287.5 607.0 L285.0 614.5 L290.0 618.2 L295.0 620.8"/>
<path d="M208.8 584.5 L210.0 594.5 L207.5 607.0 L210.0 617.0 L210.0 624.5 L206.2 628.2 L210.0 632.0 L207.5 642.0 L206.2 652.0 L202.5 664.5 L201.2 677.0 L210.0 674.5 L216.2 672.0 L218.8 674.5 L222.5 673.2 L226.2 662.0 L226.2 649.5"/>
<path d="M222.5 673.2 L232.5 670.8 L242.5 664.5 L243.8 672.0 L250.0 684.5 L255.0 694.5 L260.0 705.8 L267.5 707.0 L271.2 712.0 L282.5 708.2 L283.8 702.0 L287.5 700.8 L296.2 705.8 L305.0 702.0 L311.2 697.0 L313.8 687.0 L320.0 680.8 L326.2 679.5 L335.0 672.0 L337.5 669.5"/>
<path d="M201.2 677.0 L198.8 689.5 L201.2 707.0 L205.0 717.0 L210.0 729.5 L210.0 737.0"/>
<path d="M260.0 705.8 L256.2 714.5 L252.5 722.0 L247.5 734.5 L241.2 742.0 L238.8 747.0 L230.0 744.5 L222.5 740.8 L216.2 738.2 L215.0 749.5 L216.2 762.0 L210.9 770.5"/>
<path d="M247.5 734.5 L255.0 733.2 L261.2 739.5 L263.8 745.8 L272.5 749.5 L281.2 750.8 L285.0 747.0 L295.0 748.2 L307.5 753.2 L317.5 762.0 L326.2 764.5 L332.2 770.5"/>
<path d="M340.6 770.5 L343.8 763.2 L337.5 754.5 L333.8 742.0 L330.0 729.5 L328.8 717.0 L330.0 704.5 L328.8 699.5 L318.8 697.0 L315.0 689.5 L313.8 687.0"/>
<path d="M238.8 747.0 L245.0 759.5 L253.8 764.5 L257.8 770.5"/>
<path d="M271.2 579.5 L277.5 569.5 L277.5 559.5 L281.2 550.8 L290.0 548.2 L296.2 548.2"/>
<path d="M296.2 545.8 L305.0 544.5 L312.5 543.2 L315.0 542.0"/>
<path d="M295.0 620.8 L301.2 627.0 L305.0 639.5 L312.5 652.0 L321.2 659.5 L330.0 667.0 L337.5 669.5 L341.2 662.0 L345.0 652.0 L348.8 642.0 L352.5 627.0 L358.8 613.2 L352.5 604.5 L350.0 594.5 L342.5 582.0 L337.5 569.5 L338.8 559.5 L342.5 549.5 L341.2 542.0"/>
<path d="M358.8 613.2 L367.5 608.2 L376.2 604.5 L377.5 594.5 L378.8 584.5 L385.0 574.5 L386.2 565.8 L378.8 557.0 L376.2 547.0 L377.5 542.0"/>
<path d="M358.8 613.2 L370.0 617.0 L382.5 620.8 L394.0 625.8"/>
<path d="M378.8 584.5 L383.8 588.2 L394.0 588.2"/>
<path d="M356.2 549.5 L362.5 545.8 L372.5 544.5 L376.2 542.0"/>
<path d="M326.2 679.5 L337.5 685.8 L345.0 692.0 L348.8 704.5 L350.0 717.0 L353.8 734.5 L360.0 738.2 L363.8 737.0 L367.5 747.0 L380.0 748.2 L390.0 750.8 L394.0 742.0"/>
<path d="M348.8 704.5 L352.5 692.0 L362.5 684.5 L370.0 678.2 L376.2 674.5 L382.5 668.2 L390.0 665.8 L394.0 665.8"/>
<path d="M91.2 734.5 L103.8 739.5 L107.5 749.5 L120.0 757.0 L123.8 763.2 L122.7 770.5" stroke="#d0d0d0"/>
<path d="M207.5 776.8 L210.0 788.0 L211.2 800.5 L216.2 810.5 L223.8 820.5 L231.2 828.0 L236.2 839.2 L240.0 848.0 L245.0 849.2"/>
<path d="M258.8 768.0 L256.2 778.0 L258.8 786.8 L266.2 790.5 L270.0 798.0 L268.8 808.0 L270.0 818.0 L271.2 826.8"/>
<path d="M270.0 808.0 L277.5 803.0 L282.5 794.2 L290.0 788.0 L302.5 785.5 L312.5 781.8 L321.2 781.8 L322.5 786.8 L330.0 785.5 L340.0 791.8 L350.0 796.8 L355.0 805.5 L365.0 811.8 L372.5 818.0 L382.5 825.5 L388.8 828.0"/>
<path d="M330.0 768.0 L335.0 771.8 L345.0 776.8 L352.5 780.5 L355.0 785.5 L360.0 788.0 L362.5 780.5 L375.0 775.5 L383.8 774.2 L380.0 779.2 L382.5 785.5 L390.0 795.5 L394.0 798.0"/>
<path d="M83.8 775.5 L91.2 783.0 L101.2 773.0 L112.5 775.5 L122.5 771.8 L127.5 780.5 L131.2 786.8 L142.5 788.0 L147.5 793.0 L157.5 791.8 L165.0 790.5 L172.5 793.0 L181.2 798.0" stroke="#d0d0d0"/>
<path d="M127.5 780.5 L126.2 795.5 L117.5 800.5 L111.2 808.0 L103.8 811.8 L105.0 823.0 L100.0 833.0 L95.0 843.0 L90.0 848.0 L83.8 849.2" stroke="#d0d0d0"/>
<path d="M181.2 798.0 L182.5 790.5 L192.5 781.8 L200.0 778.0 L207.5 776.8 L212.5 770.5 L216.2 768.0" stroke="#d0d0d0"/>
<path d="M181.2 798.0 L180.0 810.5 L172.5 814.2 L170.0 819.2 L162.5 820.5 L161.2 838.0 L162.5 853.0 L171.2 855.5 L176.2 864.2 L182.5 875.5 L192.5 883.0 L200.0 889.2 L210.0 890.5 L216.2 891.8 L220.0 896.8 L221.2 893.0 L215.0 885.5 L212.5 878.0 L205.0 870.5 L202.5 860.5 L196.2 851.8 L196.2 849.2 L202.5 854.2 L207.5 858.0 L215.0 856.8 L220.0 861.8 L221.2 870.5 L232.5 869.2 L240.0 868.0 L243.8 873.0 L246.2 865.5 L246.2 858.0 L245.0 849.2 L255.0 848.0 L265.0 846.8 L275.0 845.5 L277.5 839.2 L272.5 833.0 L271.2 826.8 L277.5 825.5 L283.8 833.0 L288.8 843.0 L290.0 853.0 L292.5 851.8 L291.2 840.5 L297.5 839.2 L310.0 836.8 L320.0 838.0 L323.8 831.8 L331.2 835.5 L337.5 829.2 L343.8 825.5 L352.5 829.2 L357.5 824.2 L362.5 825.5 L363.8 835.5 L367.5 840.5" stroke="#d0d0d0"/>
<path d="M824.0 297.2 L836.5 298.5 L849.0 301.0 L856.5 308.5 L861.5 316.0 L871.5 318.5 L879.0 323.5 L877.8 331.0 L890.2 332.2 L891.5 341.0 L890.2 349.8 L899.0 354.8 L909.0 358.5 L915.2 364.8 L910.2 371.0 L904.0 376.0 L904.0 382.2 L910.2 387.2 L912.8 396.0 L912.8 403.5 L915.2 411.0 L915.2 421.0 L915.2 431.0 L920.2 438.5 L930.2 441.0 L936.5 443.5 L944.0 452.2 L951.5 461.0 L959.0 473.5 L961.5 481.0 L960.2 493.5 L962.8 503.5 L960.2 513.5 L954.0 523.5 L946.5 533.5 L941.5 542.0"/>
<path d="M824.0 303.5 L834.0 311.0 L844.0 316.0 L856.5 321.0 L865.2 331.0 L870.2 341.0 L874.0 352.2 L876.5 358.5 L872.8 363.5 L877.8 371.0 L882.8 378.5 L886.5 386.0 L884.0 393.5 L877.8 402.2 L881.5 409.8 L890.2 406.0 L896.5 404.8 L900.2 413.5 L905.2 421.0 L915.2 421.0 L926.5 417.2 L934.0 409.8 L944.0 409.8 L954.0 412.2 L966.5 414.8 L976.5 419.8 L987.8 424.8"/>
<path d="M831.5 311.0 L832.8 318.5 L829.0 328.5 L824.0 336.0"/>
<path d="M824.0 413.5 L834.0 409.8 L844.0 407.2 L856.5 403.5 L866.5 399.8 L875.2 402.2"/>
<path d="M881.5 409.8 L874.0 418.5 L864.0 428.5 L856.5 436.0 L846.5 442.2 L836.5 446.0 L829.0 453.5 L824.0 458.5"/>
<path d="M890.2 332.2 L901.5 326.0 L914.0 318.5 L924.0 311.0 L934.0 303.5 L940.2 297.2 L932.8 288.5 L931.5 286.0"/>
<path d="M940.2 297.2 L949.0 302.2 L959.0 308.5 L969.0 318.5 L979.0 331.0 L989.0 343.5 L1001.5 352.2 L1011.5 354.8 L1021.5 359.8 L1025.2 366.0 L1030.2 378.5 L1024.0 389.8 L1011.5 401.0 L999.0 413.5 L987.8 424.8 L999.0 433.5 L1009.0 441.0 L1019.0 451.0 L1026.5 458.5 L1039.0 466.0 L1052.8 474.8"/>
<path d="M947.8 301.0 L954.0 293.5 L961.5 286.0"/>
<path d="M1011.5 354.8 L1019.0 343.5 L1029.0 331.0 L1039.0 324.8 L1052.8 318.5"/>
<path d="M1025.2 366.0 L1036.5 369.8 L1044.0 373.5 L1052.8 375.5"/>
<path d="M1066.5 506.0 L1066.5 518.5 L1071.5 531.0 L1074.0 542.0"/>
<path d="M824.0 506.0 L827.8 516.0 L834.0 522.2 L829.0 528.5 L824.0 532.2"/>
<path d="M824.0 516.0 L831.5 526.0 L839.0 536.0 L844.0 542.0"/>
<path d="M863.8 542.0 L875.0 548.2 L885.0 553.2 L888.8 562.0 L890.0 572.0 L895.0 575.8 L901.2 577.0 L901.2 582.0 L912.5 587.0 L915.0 597.0 L916.2 609.5 L920.0 612.0 L930.0 608.2 L932.5 597.0 L937.5 587.0"/>
<path d="M901.2 582.0 L895.0 587.0 L892.5 597.0 L887.5 607.0 L883.8 617.0 L883.8 634.5 L885.0 647.0 L885.0 654.5 L892.5 659.5 L897.5 665.8 L902.5 673.2 L913.8 672.0 L917.5 680.8 L930.0 682.0 L945.0 684.5 L955.0 682.0 L962.5 688.2 L972.5 695.8 L982.5 703.2 L995.0 710.8 L1003.8 717.0 L1005.0 719.5"/>
<path d="M895.0 585.8 L885.0 590.8 L877.5 599.5 L870.0 607.0 L860.0 610.8"/>
<path d="M935.0 542.0 L933.8 552.0 L935.0 562.0 L931.2 572.0 L932.5 579.5 L937.5 587.0 L947.5 589.5 L957.5 595.8 L965.0 597.0 L973.8 604.5 L982.5 608.2 L990.0 602.0 L996.2 594.5 L1003.8 587.0 L1000.0 580.8 L1006.2 575.8 L1012.5 567.0 L1020.0 558.2 L1025.0 550.8 L1032.5 545.8 L1045.0 545.8 L1057.5 544.5 L1065.0 542.0"/>
<path d="M1072.5 542.0 L1077.5 548.2 L1081.2 550.8 L1073.8 558.2 L1067.5 567.0 L1065.0 577.0 L1057.5 584.5 L1047.5 593.2 L1038.8 600.8 L1030.0 607.0 L1032.5 614.5 L1031.2 623.2 L1036.2 624.5 L1033.8 629.5 L1018.8 630.8 L1017.5 634.5 L1022.5 644.5 L1025.0 655.8 L1020.0 664.5 L1015.0 674.5 L1012.5 683.2 L1005.0 692.0 L1012.5 699.5 L1018.8 707.0 L1013.8 714.5 L1005.0 719.5 L1005.0 724.5 L1012.5 730.8 L1013.8 737.0 L1007.5 744.5 L997.5 749.5 L990.0 757.0 L987.5 760.8 L982.5 762.0 L983.8 768.2 L987.5 770.5"/>
<path d="M991.2 770.5 L996.2 764.5 L1007.5 768.2 L1011.1 770.5"/>
<path d="M1081.2 550.8 L1090.0 555.8 L1100.0 564.5 L1110.0 573.2 L1116.2 582.0 L1115.0 587.0 L1122.5 594.5 L1132.5 602.0 L1142.5 605.8 L1157.5 607.0 L1167.5 612.0 L1174.0 617.0"/>
<path d="M1160.0 542.0 L1166.2 554.5 L1171.2 569.5 L1174.0 587.0"/>
<path d="M1018.8 707.0 L1031.2 708.2 L1037.5 715.8 L1047.5 724.5 L1060.0 729.5 L1067.5 737.0 L1075.0 745.8 L1078.8 752.0 L1087.5 752.0 L1097.5 745.8 L1107.5 739.5 L1116.2 738.2 L1117.5 735.8 L1121.2 744.5 L1132.5 740.8 L1146.2 739.5 L1151.2 729.5 L1157.5 719.5 L1165.0 714.5 L1171.2 714.5 L1170.0 708.2 L1166.2 704.5 L1174.0 699.5"/>
<path d="M1078.8 752.0 L1085.0 759.5 L1095.0 768.2 L1097.2 770.5"/>
<path d="M860.0 650.8 L870.0 650.8 L871.2 654.5 L883.8 652.0 L885.0 647.0"/>
<path d="M871.2 654.5 L875.0 664.5 L877.5 677.0 L885.0 685.8 L885.0 689.5 L875.0 692.0 L865.0 694.5 L863.8 704.5 L860.0 705.8"/>
<path d="M885.0 689.5 L895.0 689.5 L902.5 693.2 L910.0 698.2 L917.5 697.0 L923.8 698.2 L921.2 692.0 L917.5 680.8"/>
<path d="M883.8 694.5 L885.0 707.0 L882.5 710.8 L880.0 719.5 L885.0 725.8 L890.0 733.2 L897.5 734.5 L906.2 735.8 L915.0 732.0 L917.5 722.0 L918.8 714.5 L923.8 707.0 L923.8 698.2"/>
<path d="M906.2 735.8 L902.5 744.5 L895.0 752.0 L887.5 758.2 L877.5 759.5 L872.5 767.0 L867.5 768.2 L860.0 763.2"/>
<path d="M987.5 771.8 L996.2 780.5 L1007.5 790.5 L1017.5 800.5 L1026.2 809.2 L1032.5 815.5 L1031.2 821.8 L1020.0 826.8 L1007.5 829.2 L1000.0 835.5 L996.2 839.2"/>
<path d="M990.0 768.0 L996.2 771.8 L1007.5 769.2 L1017.5 775.5 L1025.0 785.5 L1035.0 793.0 L1042.5 800.5 L1050.0 805.5 L1053.8 818.0 L1058.8 821.8 L1060.0 814.2 L1062.5 805.5 L1077.5 798.0 L1092.5 791.8 L1101.2 788.0 L1105.0 776.8 L1103.8 768.0"/>
<path d="M1105.0 776.8 L1120.0 775.5 L1135.0 774.2 L1142.5 781.8 L1151.2 791.8 L1160.0 799.2 L1167.5 808.0 L1174.0 809.2"/>
<path d="M860.0 801.8 L870.0 803.0 L880.0 806.8 L887.5 814.2 L892.5 823.0 L910.0 824.2 L930.0 825.5 L952.5 826.8 L970.0 828.0 L985.0 834.2 L996.2 839.2 L1010.0 848.0 L1022.5 860.5 L1020.0 873.0 L1015.0 890.5 L1012.5 903.0 L1010.0 915.5"/>
<path d="M892.5 823.0 L890.0 833.0 L893.8 845.5 L897.5 856.8 L887.5 868.0 L880.0 878.0 L876.2 890.5 L877.5 900.5 L887.5 910.5 L902.5 918.0 L920.0 923.0 L925.0 930.5 L932.5 940.5 L945.0 950.5 L960.0 958.0 L970.0 968.0 L977.5 978.0 L990.0 979.2 L1000.0 983.0 L1010.0 986.8"/>
<path d="M897.5 856.8 L910.0 865.5 L925.0 873.0 L942.5 878.0 L960.0 885.5 L977.5 898.0 L995.0 910.5 L1010.0 915.5 L1022.5 923.0 L1035.0 930.5"/>
<path d="M920.0 923.0 L922.5 915.5 L927.5 908.0 L926.2 900.5 L931.2 895.5 L940.0 898.0 L950.0 904.2 L965.0 910.5 L977.5 918.0 L990.0 928.0 L1000.0 935.5 L1010.0 943.0 L1022.5 948.0 L1035.0 951.8 L1050.0 954.2"/>
<path d="M1015.0 890.5 L1025.0 893.0 L1035.0 898.0 L1040.0 885.5 L1046.2 875.5 L1053.8 869.2 L1062.5 868.0"/>
<path d="M860.0 871.8 L867.5 879.2 L873.8 888.0 L876.2 890.5"/>
<path d="M860.0 923.0 L872.5 920.5 L887.5 910.5"/>
<path d="M860.0 934.2 L870.0 936.8 L877.5 943.0 L876.2 955.5 L882.5 968.0 L887.5 980.5 L890.0 986.8"/>
<path d="M970.0 968.0 L977.5 980.5 L967.5 986.8"/>
<path d="M917.5 986.8 L925.0 980.5 L935.0 978.0"/>
<path d="M1174.0 818.0 L1170.0 828.0 L1160.0 835.5 L1150.0 843.0 L1147.5 848.0 L1155.0 853.0 L1156.2 863.0 L1162.5 873.0 L1167.5 883.0 L1165.0 890.5 L1174.0 898.0"/>
<path d="M1100.0 853.0 L1092.5 860.5 L1086.2 868.0"/>
<path d="M1150.0 930.5 L1146.2 943.0 L1142.5 953.0 L1133.8 963.0 L1130.0 968.0 L1137.5 978.0 L1142.5 986.8"/>
<path d="M1050.0 986.8 L1055.0 978.0 L1067.5 975.5 L1085.0 976.8 L1100.0 979.2 L1110.0 986.8"/>
<path d="M1035.0 951.8 L1037.5 943.0 L1040.0 933.0"/>
<path d="M417.5 286.0 L420.0 292.5 L416.2 305.0 L413.8 317.5 L417.5 330.0 L417.5 345.0 L408.8 352.5 L407.5 358.8 L403.8 363.8 L394.0 369.5"/>
<path d="M395.0 302.5 L397.5 313.8 L394.0 315.5"/>
<path d="M417.5 345.0 L425.0 351.2 L430.0 357.5 L445.0 360.0 L460.0 362.5 L468.8 366.2 L467.5 352.5 L465.0 342.5 L467.5 330.0 L468.8 317.5 L466.2 306.2 L455.0 302.5 L447.5 290.0 L445.5 286.0"/>
<path d="M466.2 306.2 L477.5 303.8 L490.0 297.5 L501.2 291.2 L507.5 286.0"/>
<path d="M468.8 366.2 L467.5 375.0 L480.0 373.8 L495.0 372.5 L502.5 375.0 L512.5 383.8"/>
<path d="M467.5 375.0 L465.0 387.5 L461.2 402.5 L452.5 406.2 L446.2 406.2 L441.2 395.0 L433.8 380.0 L427.5 365.0 L423.8 353.8 L420.0 350.0 L412.5 355.0 L408.8 352.5"/>
<path d="M403.8 363.8 L412.5 377.5 L412.5 395.0 L410.0 410.0 L408.8 417.5 L416.2 425.0 L415.0 440.0 L410.0 452.5 L405.0 457.5 L403.8 467.5 L398.8 473.8 L406.2 477.5 L417.5 467.5 L430.0 461.2 L436.2 466.2 L438.8 470.0 L433.8 487.5 L434.4 492.5"/>
<path d="M401.2 492.5 L398.8 473.8"/>
<path d="M394.0 418.0 L408.8 417.5"/>
<path d="M461.2 402.5 L472.5 410.0 L475.0 415.0 L462.5 420.0 L458.8 430.0 L460.0 442.5 L456.2 455.0 L447.5 462.5 L440.0 466.2 L447.5 477.5 L457.5 481.2 L465.0 487.5 L465.8 492.5"/>
<path d="M475.0 415.0 L490.0 415.0 L505.0 411.2 L512.5 408.4"/>
<path d="M465.0 487.5 L475.0 475.0 L487.5 470.0 L502.5 462.5 L510.0 451.2 L512.5 449.1"/>
<path d="M394.0 492.5 L401.2 492.5"/>
<path d="M645.0 876.8 L653.8 885.5 L662.5 893.0 L667.5 895.5 L667.5 908.0 L671.2 918.0 L666.2 926.8 L665.0 938.0 L661.2 953.0 L667.5 955.5 L671.2 960.5 L677.5 954.2 L685.0 951.8 L692.5 948.0 L700.0 953.0 L706.2 954.2 L711.2 946.8 L722.5 946.8 L730.0 953.0 L732.5 956.8 L738.8 955.5 L742.5 965.5 L746.2 971.8 L756.2 965.5 L762.5 965.5 L766.2 975.5 L775.0 974.2 L785.0 969.2 L795.0 963.0 L800.0 959.2 L797.5 954.2 L792.5 943.0 L790.0 930.5 L786.2 918.0 L778.8 908.0 L772.5 898.0 L768.8 893.0"/>
<path d="M645.0 876.8 L652.5 874.2 L665.0 875.5 L666.2 878.0 L677.5 874.2 L686.5 873.5"/>
<path d="M695.5 873.5 L707.5 875.5 L725.0 878.0"/>
<path d="M665.0 938.0 L656.2 943.0 L648.8 935.5 L641.5 927.0"/>
<path d="M725.0 878.0 L726.2 888.0 L730.0 898.0 L731.2 905.5 L742.5 904.2 L748.8 906.8 L743.8 911.8 L747.5 918.0 L750.0 928.0 L752.5 938.0 L752.5 943.0 L740.0 948.0 L732.5 953.0"/>
<path d="M748.8 906.8 L757.5 898.0 L768.8 893.0 L775.0 885.5 L778.8 881.8"/>
<path d="M747.5 918.0 L757.5 923.0 L762.5 933.0 L767.5 943.0 L772.5 953.0 L780.0 961.8 L786.2 969.2"/>
<path d="M746.2 971.8 L740.0 975.5 L736.2 985.5"/>
<path d="M778.8 881.8 L790.0 885.5 L797.5 893.0 L807.5 898.0 L815.0 904.2 L822.5 911.8 L826.2 915.5 L835.0 916.8 L840.0 924.2 L833.8 926.8 L831.2 933.0 L826.2 940.5 L821.2 945.5 L816.2 953.0 L822.5 958.0 L810.0 956.8 L800.0 959.2"/>
<path d="M828.8 964.2 L837.5 965.5 L846.2 963.0 L851.2 963.0 L850.0 950.5 L852.5 938.0 L856.2 930.5 L860.0 924.2"/>
<path d="M846.2 963.0 L852.5 973.0 L862.5 981.8"/>
<path d="M661.2 953.0 L656.2 963.0 L651.2 968.0 L648.8 978.0 L642.5 986.8" stroke="#d0d0d0"/>
<path d="M857.3 539.5 L860.0 540.6 L862.5 542.1"/>
<path d="M862.5 610.0 L861.2 611.2 L856.2 612.5 L854.4 617.5 L851.2 620.0 L846.2 623.8 L845.6 628.8 L848.1 633.8 L849.4 640.0 L849.0 642.5"/>
<path d="M837.6 539.5 L841.2 544.4 L842.5 550.0 L844.4 556.2 L846.2 555.6 L847.5 561.2 L848.8 570.0 L847.5 576.2 L843.8 586.2 L840.0 597.5 L836.2 608.8 L831.9 620.0 L827.5 618.8 L826.2 613.8 L826.9 610.0 L825.0 607.5"/>
<path d="M827.5 618.8 L825.0 622.5 L821.5 623.5"/>
<path d="M821.5 634.2 L824.4 633.8"/>
<path d="M1156.2 346.5 L1166.2 344.8 L1173.8 339.8"/>
<path d="M1156.2 479.0 L1166.2 473.5 L1173.8 468.5"/>
<path d="M1151.2 506.0 L1153.8 518.5 L1157.5 533.5 L1161.2 542.0"/>
</g>
<path d="M610.0 251.2 L623.8 250.5 L630.0 253.8 L637.5 257.5 L645.0 257.0 L651.2 252.5 L660.0 253.8 L660.0 250.5 L681.2 249.5 L685.0 260.0 L686.2 277.5 L683.8 286.2 L688.8 295.0 L711.2 293.0 L717.5 298.0 L723.8 298.8 L730.0 286.2 L735.0 272.5 L745.0 261.2 L760.0 253.8 L772.5 254.5 L781.2 258.8 L790.0 269.5 L813.8 268.2 L811.2 277.5 L813.8 290.0 L817.5 297.5 L813.8 308.8 L808.8 313.8 L800.0 318.0 L791.2 313.8 L782.5 313.8 L771.2 320.0 L757.5 332.5 L740.0 340.0 L727.5 345.0 L722.5 351.2 L722.5 362.5 L725.0 368.8 L718.8 373.8 L713.8 378.8 L721.2 380.5 L735.0 391.2 L740.0 400.0 L741.2 407.5 L745.0 413.8 L747.5 421.2 L756.2 426.2 L770.0 430.0 L776.2 431.2 L782.5 430.0 L785.0 437.5 L771.2 439.5 L762.5 435.0 L755.0 430.0 L746.2 429.5 L738.8 440.0 L731.2 451.2 L722.5 463.8 L718.8 468.8 L713.8 461.2 L708.8 453.8 L706.2 442.5 L703.8 432.5 L700.0 422.5 L693.8 413.8 L685.0 407.5 L679.5 403.8 L678.0 415.0 L676.2 425.0 L672.0 436.2 L673.8 445.0 L675.0 457.5 L676.2 467.5 L678.0 471.2 L670.8 477.5 L664.5 489.0 L662.5 493.2 L656.8 495.2 L651.2 494.5 L646.5 489.8 L644.2 485.0 L645.8 481.0 L649.0 475.5 L635.5 465.8 L627.5 463.8 L620.0 462.5 L610.0 456.2 L600.0 452.5 L587.5 450.0 L581.2 453.8 L573.8 463.8 L561.2 468.8 L555.0 461.2 L543.8 456.2 L537.5 453.8 L540.0 443.8 L533.8 441.2 L535.0 435.0 L541.2 423.8 L556.2 422.5 L562.5 413.8 L571.2 412.5 L582.5 405.0 L583.8 398.8 L590.0 392.5 L596.2 376.2 L608.8 367.5 L617.5 357.5 L612.5 345.0 L607.5 336.2 L610.0 330.0 L608.8 320.0 L605.0 311.2 L608.8 305.0 L615.0 298.0 L606.2 295.0 L606.2 291.2 L601.2 285.0 L602.5 281.2 L601.2 273.8 L604.5 268.8 L603.8 262.5Z" fill="#6eb3fb" stroke="#5d93cf" stroke-width="0.6" stroke-linejoin="round"/>
<path d="M678.0 471.2 L682.5 482.5 L686.2 500.0 L690.0 512.5 L696.2 523.8 L702.5 535.0 L703.8 546.2 L707.5 552.5 L702.5 562.5 L696.2 572.5 L702.5 571.2 L710.0 572.5 L717.5 575.0 L725.0 577.5 L733.8 576.2 L737.5 581.2 L735.0 590.0 L732.5 600.0 L734.5 610.8 L730.0 606.2 L723.8 601.2 L716.2 602.5 L710.0 597.5 L703.8 590.0 L696.2 587.5 L688.8 588.8 L682.5 591.2 L678.8 591.2 L676.2 585.0 L672.5 578.8 L677.5 570.0 L677.0 560.0 L672.5 550.0 L667.5 542.5 L663.0 542.0 L659.5 551.8 L656.2 546.2 L652.5 535.0 L655.5 527.5 L657.5 520.0 L654.5 512.5 L655.5 505.2 L656.8 496.8 L662.5 493.2 L664.5 489.0 L670.8 477.5Z" fill="#0664c8" stroke="#0a4f9e" stroke-width="0.6" stroke-linejoin="round"/>
<path d="M410.5 565.0 L417.5 566.2 L422.5 562.5 L430.0 556.2 L435.0 550.0 L443.8 546.2 L448.8 540.0 L456.2 536.2 L462.5 534.5 L470.0 536.2 L477.5 538.0 L485.0 539.5 L492.5 538.8 L498.8 536.2 L505.0 533.8 L512.5 531.2 L517.5 527.5 L522.5 521.2 L528.2 513.8 L530.0 522.5 L531.2 528.8 L526.2 535.0 L521.2 541.2 L515.0 546.2 L507.5 548.8 L501.2 553.8 L497.5 560.0 L492.5 565.0 L488.8 570.0 L483.8 570.5 L477.5 571.2 L472.5 577.5 L467.5 583.8 L462.5 587.5 L457.5 592.5 L450.0 594.5 L443.8 596.2 L438.8 594.5 L434.5 596.2 L436.2 588.8 L437.5 582.5 L431.2 580.0 L422.5 575.0 L416.2 570.0Z" fill="#0664c8" stroke="#0a4f9e" stroke-width="0.6" stroke-linejoin="round"/>
<path d="M532.5 532.5 L542.5 533.8 L543.8 536.2 L540.8 543.8 L539.5 552.5 L537.5 562.5 L535.0 571.2 L530.0 577.5 L525.0 583.8 L520.5 585.0 L518.8 580.0 L516.2 576.2 L518.8 570.0 L521.2 563.8 L525.0 557.5 L527.5 550.0 L530.0 542.5 L532.5 537.5Z" fill="#0664c8" stroke="#0a4f9e" stroke-width="0.6" stroke-linejoin="round"/>
<path d="M531.2 528.8 L532.5 537.5 L530.0 542.5 L527.5 550.0 L525.0 557.5 L521.2 563.8 L518.8 570.0 L516.2 576.2 L518.8 580.0 L520.5 585.0 L525.0 583.8 L527.0 585.0 L522.5 588.8 L520.0 593.8 L513.8 598.8 L507.5 603.8 L501.2 611.2 L500.0 615.0 L501.2 620.0 L496.2 623.8 L488.8 628.8 L481.2 632.5 L473.8 636.2 L467.5 640.0 L465.0 647.5 L463.8 655.0 L456.2 660.0 L450.0 665.0 L446.2 671.2 L442.5 680.0 L438.8 687.5 L437.5 691.2 L433.8 692.5 L428.8 688.8 L423.8 682.5 L417.5 678.8 L411.2 676.2 L411.2 672.5 L420.0 665.0 L419.5 660.0 L416.2 653.8 L416.2 647.5 L422.5 643.8 L433.8 641.2 L437.5 637.5 L441.2 637.5 L443.8 620.0 L445.0 607.5 L445.5 596.2 L450.0 594.5 L457.5 592.5 L462.5 587.5 L467.5 583.8 L472.5 577.5 L477.5 571.2 L488.8 570.0 L497.5 560.0 L501.2 553.8 L507.5 548.8 L515.0 546.2 L521.2 541.2 L526.2 535.0Z" fill="#6eb3fb" stroke="#5d93cf" stroke-width="0.6" stroke-linejoin="round"/>
<path d="M527.0 585.0 L540.0 583.0 L546.2 588.8 L552.5 590.0 L565.0 587.5 L567.0 595.0 L566.2 605.0 L562.5 613.8 L552.5 617.5 L542.5 622.0 L537.5 620.0 L533.8 615.0 L528.8 612.0 L520.0 612.5 L513.8 610.0 L507.5 607.5 L507.5 603.8 L513.8 598.8 L520.0 593.8 L522.5 588.8Z" fill="#c9e4fc" stroke="#93b2cf" stroke-width="0.6" stroke-linejoin="round"/>
<path d="M501.2 611.2 L505.0 609.5 L513.8 610.0 L520.0 612.5 L528.8 612.0 L533.8 615.0 L537.5 620.0 L540.0 625.0 L545.0 630.0 L547.5 636.2 L553.8 642.5 L560.0 652.5 L565.0 662.5 L567.0 672.5 L562.5 682.5 L556.2 690.0 L552.5 697.5 L545.0 696.2 L538.8 695.0 L535.0 700.0 L528.8 705.0 L525.0 712.5 L515.0 717.5 L505.0 716.2 L495.0 717.0 L490.0 711.2 L482.5 708.0 L475.0 709.5 L467.5 712.5 L461.2 718.8 L453.8 717.5 L451.2 712.5 L453.8 707.5 L450.0 700.0 L443.8 693.8 L438.8 690.0 L442.5 680.0 L446.2 671.2 L450.0 665.0 L456.2 660.0 L463.8 655.0 L465.0 647.5 L467.5 640.0 L473.8 636.2 L481.2 632.5 L488.8 628.8 L496.2 623.8 L501.2 620.0 L500.0 615.0Z" fill="#c9e4fc" stroke="#93b2cf" stroke-width="0.6" stroke-linejoin="round"/>
<path d="M632.5 641.2 L650.0 640.5 L656.2 646.2 L661.2 650.0 L657.5 657.5 L653.8 666.2 L663.8 667.5 L675.0 668.8 L682.5 672.5 L690.0 678.8 L697.5 681.2 L706.2 683.8 L713.8 688.8 L721.2 691.2 L730.0 689.5 L736.2 686.2 L743.8 687.0 L746.2 692.5 L747.5 700.0 L743.8 706.2 L737.5 707.5 L731.2 710.0 L728.8 717.5 L723.8 721.2 L718.8 725.0 L713.8 728.0 L718.8 733.8 L722.5 740.0 L726.2 748.8 L732.5 752.5 L735.0 756.2 L733.8 765.0 L730.0 771.2 L725.0 776.2 L721.2 782.5 L718.8 790.0 L710.0 791.2 L702.5 790.0 L701.2 786.2 L685.0 785.5 L682.5 775.0 L680.0 765.0 L677.5 756.2 L673.8 751.2 L670.0 743.8 L666.2 736.2 L660.0 728.8 L650.0 726.2 L643.8 722.5 L637.5 717.5 L630.0 716.2 L622.5 711.2 L613.8 708.8 L607.5 702.5 L600.0 697.5 L592.5 693.8 L592.5 691.2 L602.5 687.5 L607.5 680.0 L613.8 675.0 L621.2 671.2 L625.0 663.8 L620.0 658.8 L614.5 653.8 L622.5 647.5Z" fill="#e6f4fe" stroke="#a3bdd2" stroke-width="0.6" stroke-linejoin="round"/>
<path d="M415.0 784.5 L426.2 783.0 L435.0 786.2 L442.0 790.0 L442.5 796.2 L440.0 802.5 L443.8 806.2 L452.5 807.5 L460.0 810.0 L467.5 815.0 L475.0 822.5 L482.0 831.2 L478.8 836.2 L473.8 843.8 L473.0 850.0 L476.2 856.2 L481.2 862.5 L477.5 867.5 L470.0 870.5 L463.8 867.5 L458.8 868.8 L453.8 861.2 L447.5 856.2 L440.0 855.5 L433.8 858.8 L430.0 865.0 L427.5 873.8 L425.0 878.8 L428.0 883.8 L421.2 887.5 L417.5 891.2 L410.0 886.2 L401.2 880.0 L391.2 872.5 L383.8 865.0 L380.0 857.5 L373.8 852.5 L367.5 846.2 L365.0 842.0 L375.0 842.0 L382.5 840.0 L386.2 831.2 L388.0 820.0 L390.0 812.5 L396.2 809.5 L403.8 808.8 L408.0 802.5 L408.8 793.8 L411.2 787.5Z" fill="#e6f4fe" stroke="#a3bdd2" stroke-width="0.6" stroke-linejoin="round"/>
<path d="M520.0 220.0 L528.8 215.0 L538.8 208.8 L555.0 208.8 L556.2 212.5 L553.8 217.5 L555.0 222.5 L558.8 232.5 L560.0 238.8 L561.2 243.8 L564.5 244.5 L561.2 251.2 L558.8 258.8 L556.2 263.8 L557.5 267.5 L551.2 262.5 L545.0 255.0 L537.5 247.5 L531.2 240.0 L526.2 232.5 L522.5 226.2Z" fill="#6eb3fb" stroke="#5d93cf" stroke-width="0.6" stroke-linejoin="round"/>
<line x1="296.0" y1="35.7" x2="296.0" y2="987.1" stroke="#000" stroke-width="0.85"/>
<line x1="824.8" y1="35.7" x2="824.8" y2="987.1" stroke="#000" stroke-width="0.85"/>
<line x1="83.6" y1="221.6" x2="1174.1" y2="221.6" stroke="#000" stroke-width="0.85"/>
<line x1="83.6" y1="933.5" x2="1174.1" y2="933.5" stroke="#000" stroke-width="0.85"/>
</g>
<path d="M660.10 455.30 L664.34 468.36 L678.07 468.36 L666.97 476.43 L671.21 489.49 L660.10 481.42 L648.99 489.49 L653.23 476.43 L642.13 468.36 L655.86 468.36Z" fill="none" stroke="#000" stroke-width="3.9" stroke-miterlimit="10"/>
<g fill="none" stroke="#000" stroke-width="1.1">
<rect x="73.7" y="25.5" width="1110.2" height="971.6" fill="none" rx="1"/>
<rect x="83.6" y="35.7" width="1090.5" height="951.4" fill="none"/>
<line x1="83.6" y1="25.5" x2="83.6" y2="35.7"/><line x1="83.6" y1="987.1" x2="83.6" y2="997.1"/>
<line x1="1174.1" y1="25.5" x2="1174.1" y2="35.7"/><line x1="1174.1" y1="987.1" x2="1174.1" y2="997.1"/>
<line x1="73.7" y1="35.7" x2="83.6" y2="35.7"/><line x1="1174.1" y1="35.7" x2="1183.9" y2="35.7"/>
<line x1="73.7" y1="987.1" x2="83.6" y2="987.1"/><line x1="1174.1" y1="987.1" x2="1183.9" y2="987.1"/>
</g>
<rect x="83.6" y="25.5" width="212.4" height="10.2" fill="#000"/>
<rect x="824.8" y="25.5" width="349.3" height="10.2" fill="#000"/>
<rect x="83.6" y="987.1" width="212.4" height="10.0" fill="#000"/>
<rect x="824.8" y="987.1" width="349.3" height="10.0" fill="#000"/>
<rect x="73.7" y="221.6" width="9.9" height="711.9" fill="#000"/>
<rect x="1174.1" y="221.6" width="9.8" height="711.9" fill="#000"/>
<g class="h" font-size="23.4" fill="#000">
<text x="296.3" y="17.0" text-anchor="middle">12°30'</text>
<text x="296.3" y="1023.2" text-anchor="middle">12°30'</text>
<text x="825.0999999999999" y="17.0" text-anchor="middle">13°00'</text>
<text x="825.0999999999999" y="1023.2" text-anchor="middle">13°00'</text>
<text x="64.3" y="230.1" text-anchor="end">42°30'</text>
<text x="1193.6" y="230.1" text-anchor="start">42°30'</text>
<text x="64.3" y="942.0" text-anchor="end">42°00'</text>
<text x="1193.6" y="942.0" text-anchor="start">42°00'</text>
</g>
<rect x="545.5" y="46.5" width="611" height="62" fill="#fff" stroke="#000" stroke-width="1.2"/>
<g class="h" font-size="12.2" fill="#000">
<text x="549.8" y="59.7">Terremoto del 30-04-2012 23:53:10 (ora locale) ML=2.8 Prof=11 km</text>
<text x="549.8" y="74.7">Effetto acustico (rombo sismico)</text>
<text x="549.8" y="89.8">Dati non verificati estratti da 70 questionari compilati tramite Internet, relativi a comuni con almeno 3 questionari.</text>
<text x="549.8" y="104.8">Aggiornato il: 08-01-2026 20:56 (ora locale)</text>
</g>
<rect x="1052.4" y="169.4" width="105.4" height="335.8" fill="#fff"/>
<rect x="1054.4" y="171.3" width="101.5" height="331.8" fill="#fff" stroke="#000" stroke-width="1.1"/>
<g class="d" font-size="11.2" text-anchor="middle">
<text transform="translate(1105.5 192.6) scale(1.15 1)" fill="#000">Percentuale</text>
<text transform="translate(1105.5 208.5) scale(1.15 1)" fill="#000">di percezione</text>
<text transform="translate(1105.5 224.5) scale(1.15 1)" fill="#000">dell'effetto</text>
<text transform="translate(1105.5 240.4) scale(1.15 1)" fill="#000">acustico</text>
<rect x="1063" y="254.8" width="80" height="36.9" fill="#e6f4fe"/>
<text transform="translate(1103.1 278.0) scale(1.15 1)" fill="#000">0 - 24%</text>
<rect x="1063" y="299.0" width="80" height="36.8" fill="#c9e4fc"/>
<text transform="translate(1103.1 321.7) scale(1.15 1)" fill="#000">25 - 49%</text>
<rect x="1063" y="344.0" width="80" height="36.7" fill="#6eb3fb"/>
<text transform="translate(1103.1 366.7) scale(1.15 1)" fill="#000">50 - 74%</text>
<rect x="1063" y="386.0" width="80" height="37.9" fill="#0664c8"/>
<text transform="translate(1103.1 408.7) scale(1.15 1)" fill="#fff">75 - 100%</text>
<text transform="translate(1104.4 451.2) scale(1.15 1)" fill="#000">Epicentro</text>
<text transform="translate(1104.3 467.6) scale(1.15 1)" fill="#000">strumentale</text>
</g>
<line x1="1055" y1="435.3" x2="1155.5" y2="435.3" stroke="#000" stroke-width="1" stroke-dasharray="2 2"/>
<path d="M1103.05 482.10 L1104.71 487.21 L1110.09 487.21 L1105.74 490.37 L1107.40 495.49 L1103.05 492.33 L1098.70 495.49 L1100.36 490.37 L1096.01 487.21 L1101.39 487.21Z" fill="#fff" stroke="#000" stroke-width="1.2"/>
<g stroke="#000" stroke-width="1" fill="none">
<rect x="117.6" y="930.4" width="256.9" height="5.2" fill="#fff"/>
<rect x="117.6" y="930.4" width="64.2" height="5.2" fill="#000"/>
<rect x="246.0" y="930.4" width="64.3" height="5.2" fill="#000"/>
<line x1="117.6" y1="930.4" x2="117.6" y2="940.2"/>
<line x1="181.8" y1="930.4" x2="181.8" y2="937.8"/>
<line x1="246.0" y1="930.4" x2="246.0" y2="940.2"/>
<line x1="310.3" y1="930.4" x2="310.3" y2="937.8"/>
<line x1="374.5" y1="930.4" x2="374.5" y2="940.2"/>
</g>
<g class="h" fill="#000" text-anchor="middle">
<text x="246" y="915.4" font-size="30.7">km</text>
<text x="117.6" y="964.3" font-size="23.2">0</text>
<text x="246.0" y="964.3" font-size="23.2">10</text>
<text x="374.5" y="964.3" font-size="23.2">20</text>
</g>
<g transform="translate(95 40) scale(0.07326)">
<clipPath id="gc"><circle cx="505" cy="520" r="410"/></clipPath>
<circle cx="505" cy="520" r="410" fill="url(#gb)"/>
<g clip-path="url(#gc)">
<path d="M545 290 L640 120 L960 120 L960 960 L505 960 L520 700 L535 480 Z" fill="#f4f6f4"/>
<path d="M555 285 L640 105 L800 165 L735 215 L640 238Z" fill="#1d9a3c" stroke="#fff" stroke-width="7" stroke-linejoin="round"/>
<path d="M560 292 L640 242 L745 222 L775 245 L770 345 L700 312 L640 296Z" fill="#e2142d" stroke="#fff" stroke-width="7" stroke-linejoin="round"/>
<path d="M775 225 L880 280 L940 400 L890 455 L770 350Z" fill="#c9bcd3" stroke="#fff" stroke-width="7" stroke-linejoin="round"/>
<path d="M570 303 L640 303 L700 320 L768 358 L745 395 L690 432 L640 360Z" fill="#1d9a3c" stroke="#fff" stroke-width="7" stroke-linejoin="round"/>
<path d="M548 305 L575 318 L630 368 L682 440 L640 460 L590 472 L545 468Z" fill="#f0e01e" stroke="#fff" stroke-width="7" stroke-linejoin="round"/>
<path d="M698 442 L770 362 L875 455 L885 478 L830 562 L770 602 L740 530Z" fill="#f0e01e" stroke="#fff" stroke-width="7" stroke-linejoin="round"/>
<path d="M543 478 L600 480 L686 452 L725 530 L757 610 L680 652 L600 676 L532 682Z" fill="#e2142d" stroke="#fff" stroke-width="7" stroke-linejoin="round"/>
<path d="M772 612 L835 572 L888 488 L925 560 L900 660 L860 725 L803 765 L790 690Z" fill="#c9bcd3" stroke="#fff" stroke-width="7" stroke-linejoin="round"/>
<path d="M528 694 L610 690 L690 666 L762 624 L787 700 L803 772 L760 840 L690 900 L600 940 L505 945Z" fill="#1d9a3c" stroke="#fff" stroke-width="7" stroke-linejoin="round"/>
<path d="M893 425 L930 440 L930 510 L908 505Z" fill="#1d9a3c" stroke="#fff" stroke-width="7" stroke-linejoin="round"/>
<path d="M805 780 L870 715 L880 760 L820 820Z" fill="#e2142d" stroke="#fff" stroke-width="7" stroke-linejoin="round"/>
<g fill="none" stroke="#f2fafd" stroke-width="8.5" stroke-linecap="round">
<path d="M545 290 L440 130"/>
<path d="M545 290 Q420 240 335 235 Q250 225 190 200"/>
<path d="M545 290 Q330 320 190 410 Q130 460 100 520"/>
<path d="M545 290 Q420 400 310 600 Q260 720 235 830"/>
<path d="M545 290 Q530 600 500 930"/>
<path d="M450 140 Q370 170 335 235 Q320 330 370 400 Q440 465 545 472"/>
<path d="M185 290 Q170 420 240 540 Q330 640 535 686"/>
<path d="M100 520 Q140 680 240 790 Q370 860 510 872"/>
</g>
<circle cx="505" cy="520" r="410" fill="url(#gs)"/>
</g></g>
<g font-family="&quot;Liberation Sans&quot;,sans-serif" font-weight="bold" font-size="13.4" fill="#4a4a4a">
<text x="169.6" y="75.1" textLength="89.3" lengthAdjust="spacingAndGlyphs">ISTITUTO NAZIONALE</text>
<text x="169.6" y="89.5" textLength="135.6" lengthAdjust="spacingAndGlyphs">DI GEOFISICA E VULCANOLOGIA</text>
</g>
<circle cx="1097.4" cy="916.5" r="33.6" fill="#1d1d1b"/>
<circle cx="1097.4" cy="916.5" r="19.2" fill="none" stroke="#e5051a" stroke-width="6.2"/>
<circle cx="1097.4" cy="916.5" r="8.1" fill="#e5051a"/>
<path d="M1101.9 909.7 L1131.6000000000001 900.5 Q1134.0 900.0 1134.0 902.3 L1134.0 932.3 Q1134.0 934.8 1131.6000000000001 934.1 L1101.9 923.3 Z" fill="url(#cone)"/>
<circle cx="1097.4" cy="916.5" r="7.0" fill="#e5051a"/>
<circle cx="1146.6" cy="916.3" r="10.1" fill="#e5051a"/>
<text x="1146.6" y="916.3" transform="rotate(90 1146.6 916.3)" font-family="&quot;Liberation Sans&quot;,sans-serif" font-weight="bold" font-size="17.5" fill="#fff" text-anchor="middle" dy="6.2">?</text>
<path id="tc" d="M1140.4 916.5 A43.0 43.0 0 1 1 1054.4 916.5 A43.0 43.0 0 1 1 1140.4 916.5 A43.0 43.0 0 1 1 1054.4 916.5" fill="none"/>
<g font-family="&quot;Liberation Sans&quot;,sans-serif" font-size="21">
<text font-weight="bold" fill="#e5051a" stroke="#e5051a" stroke-width="0.35"><textPath href="#tc" startOffset="18.01" textLength="47.28" lengthAdjust="spacingAndGlyphs">www.</textPath></text>
<text font-weight="normal" fill="#1d1d1b"><textPath href="#tc" startOffset="66.04" textLength="22.51" lengthAdjust="spacingAndGlyphs">hai</textPath></text>
<text font-weight="bold" fill="#1d1d1b" stroke="#1d1d1b" stroke-width="0.35"><textPath href="#tc" startOffset="89.31" textLength="57.79" lengthAdjust="spacingAndGlyphs">sentito</textPath></text>
<text font-weight="normal" fill="#1d1d1b"><textPath href="#tc" startOffset="148.22" textLength="6.38" lengthAdjust="spacingAndGlyphs">il</textPath></text>
<text font-weight="bold" fill="#1d1d1b" stroke="#1d1d1b" stroke-width="0.35"><textPath href="#tc" startOffset="154.98" textLength="79.93" lengthAdjust="spacingAndGlyphs">terremoto</textPath></text>
<text font-weight="bold" fill="#e5051a" stroke="#e5051a" stroke-width="0.35"><textPath href="#tc" startOffset="235.65" textLength="18.01" lengthAdjust="spacingAndGlyphs">.it</textPath></text>
</g>
</svg></body></html>
